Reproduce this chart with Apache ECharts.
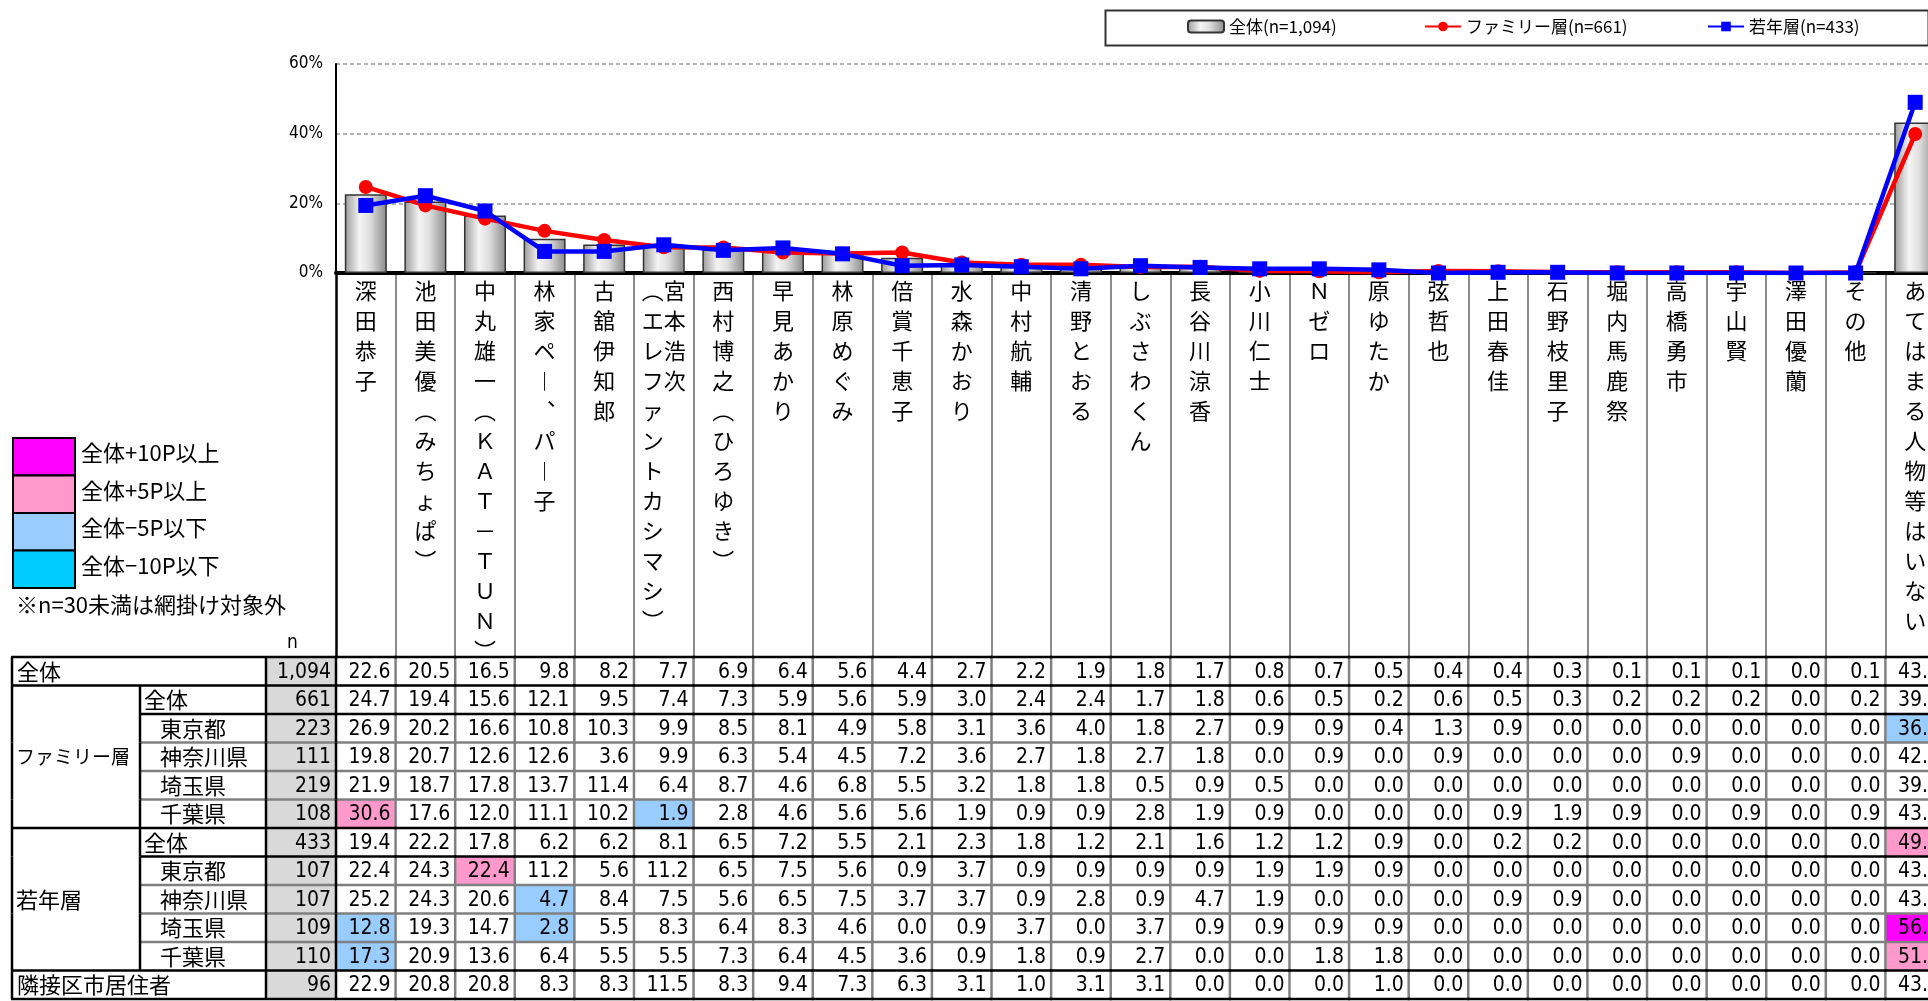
<!DOCTYPE html>
<html>
<head>
<meta charset="utf-8">
<script src="https://cdn.jsdelivr.net/npm/echarts@6/dist/echarts.min.js"></script>
<style>
  html, body { margin: 0; padding: 0; background: #fff; }
  #chart { width: 1928px; height: 1001px; }
</style>
</head>
<body>
<div id="chart"></div>
<script>
// categories (people)
var categories = [
  '深田恭子', '池田美優（みちょぱ）', '中丸雄一（ＫＡＴ－ＴＵＮ）', '林家ペー、パー子', '古舘伊知郎',
  '宮本浩次（エレファントカシマシ）', '西村博之（ひろゆき）', '早見あかり', '林原めぐみ', '倍賞千恵子',
  '水森かおり', '中村航輔', '清野とおる', 'しぶさわくん', '長谷川涼香', '小川仁士', 'Ｎゼロ', '原ゆたか',
  '弦哲也', '上田春佳', '石野枝里子', '堀内馬鹿祭', '高橋勇市', '宇山賢', '澤田優蘭', 'その他',
  'あてはまる人物等はいない'
];

// table rows (%)
var allTotal   = [22.6, 20.5, 16.5, 9.8, 8.2, 7.7, 6.9, 6.4, 5.6, 4.4, 2.7, 2.2, 1.9, 1.8, 1.7, 0.8, 0.7, 0.5, 0.4, 0.4, 0.3, 0.1, 0.1, 0.1, 0.0, 0.1, 43.2];
var famTotal   = [24.7, 19.4, 15.6, 12.1, 9.5, 7.4, 7.3, 5.9, 5.6, 5.9, 3.0, 2.4, 2.4, 1.7, 1.8, 0.6, 0.5, 0.2, 0.6, 0.5, 0.3, 0.2, 0.2, 0.2, 0.0, 0.2, 39.9];
var famTokyo   = [26.9, 20.2, 16.6, 10.8, 10.3, 9.9, 8.5, 8.1, 4.9, 5.8, 3.1, 3.6, 4.0, 1.8, 2.7, 0.9, 0.9, 0.4, 1.3, 0.9, 0.0, 0.0, 0.0, 0.0, 0.0, 0.0, 36.3];
var famKanagawa= [19.8, 20.7, 12.6, 12.6, 3.6, 9.9, 6.3, 5.4, 4.5, 7.2, 3.6, 2.7, 1.8, 2.7, 1.8, 0.0, 0.9, 0.0, 0.9, 0.0, 0.0, 0.0, 0.9, 0.0, 0.0, 0.0, 42.3];
var famSaitama = [21.9, 18.7, 17.8, 13.7, 11.4, 6.4, 8.7, 4.6, 6.8, 5.5, 3.2, 1.8, 1.8, 0.5, 0.9, 0.5, 0.0, 0.0, 0.0, 0.0, 0.0, 0.0, 0.0, 0.0, 0.0, 0.0, 39.3];
var famChiba   = [30.6, 17.6, 12.0, 11.1, 10.2, 1.9, 2.8, 4.6, 5.6, 5.6, 1.9, 0.9, 0.9, 2.8, 1.9, 0.9, 0.0, 0.0, 0.0, 0.9, 1.9, 0.9, 0.0, 0.9, 0.0, 0.9, 43.5];
var ynTotal    = [19.4, 22.2, 17.8, 6.2, 6.2, 8.1, 6.5, 7.2, 5.5, 2.1, 2.3, 1.8, 1.2, 2.1, 1.6, 1.2, 1.2, 0.9, 0.0, 0.2, 0.2, 0.0, 0.0, 0.0, 0.0, 0.0, 49.0];
var ynTokyo    = [22.4, 24.3, 22.4, 11.2, 5.6, 11.2, 6.5, 7.5, 5.6, 0.9, 3.7, 0.9, 0.9, 0.9, 0.9, 1.9, 1.9, 0.9, 0.0, 0.0, 0.0, 0.0, 0.0, 0.0, 0.0, 0.0, 43.9];
var ynKanagawa = [25.2, 24.3, 20.6, 4.7, 8.4, 7.5, 5.6, 6.5, 7.5, 3.7, 3.7, 0.9, 2.8, 0.9, 4.7, 1.9, 0.0, 0.0, 0.0, 0.9, 0.9, 0.0, 0.0, 0.0, 0.0, 0.0, 43.0];
var ynSaitama  = [12.8, 19.3, 14.7, 2.8, 5.5, 8.3, 6.4, 8.3, 4.6, 0.0, 0.9, 3.7, 0.0, 3.7, 0.9, 0.9, 0.9, 0.9, 0.0, 0.0, 0.0, 0.0, 0.0, 0.0, 0.0, 0.0, 56.0];
var ynChiba    = [17.3, 20.9, 13.6, 6.4, 5.5, 5.5, 7.3, 6.4, 4.5, 3.6, 0.9, 1.8, 0.9, 2.7, 0.0, 0.0, 1.8, 1.8, 0.0, 0.0, 0.0, 0.0, 0.0, 0.0, 0.0, 0.0, 51.8];
var neighbor   = [22.9, 20.8, 20.8, 8.3, 8.3, 11.5, 8.3, 9.4, 7.3, 6.3, 3.1, 1.0, 3.1, 3.1, 0.0, 0.0, 0.0, 1.0, 0.0, 0.0, 0.0, 0.0, 0.0, 0.0, 0.0, 0.0, 43.8];

var rowGroups = ['全体', 'ファミリー層', 'ファミリー層', 'ファミリー層', 'ファミリー層', 'ファミリー層',
                 '若年層', '若年層', '若年層', '若年層', '若年層', '隣接区市居住者'];
var rowSubs   = ['', '全体', '東京都', '神奈川県', '埼玉県', '千葉県', '全体', '東京都', '神奈川県', '埼玉県', '千葉県', ''];
var rowN      = [1094, 661, 223, 111, 219, 108, 433, 107, 107, 109, 110, 96];
var tableRows = [allTotal, famTotal, famTokyo, famKanagawa, famSaitama, famChiba,
                 ynTotal, ynTokyo, ynKanagawa, ynSaitama, ynChiba, neighbor];

var yTicks = [0, 20, 40, 60];
var keyLabels = ['全体+10P以上', '全体+5P以上', '全体−5P以下', '全体−10P以下'];

var NARROW = "'Liberation Sans Narrow','Arial Narrow','DejaVu Sans Condensed','Noto Sans CJK JP',sans-serif";
var JP = "'Noto Sans CJK JP',sans-serif";
var KEY_COLORS = ['#ff00ff', '#ff99cc', '#99ccff', '#00ccff'];
var GRAY = '#808080';

function fmtN(n) { return String(n).replace(/\B(?=(\d{3})+(?!\d))/g, ','); }

var seriesNames = [
  '全体(n=' + fmtN(rowN[0]) + ')',
  'ファミリー層(n=' + fmtN(rowN[1]) + ')',
  '若年層(n=' + fmtN(rowN[6]) + ')'
];

// vertical writing for the category labels
var vmap = { '（': '︵', '）': '︶', 'ー': '︱', '、': '︑' };
function verticalLabel(name) {
  var cols = [name];
  if (name.length > 13 && name.indexOf('（') > 0) {
    var k = name.indexOf('（');
    cols = [name.slice(0, k), name.slice(k)];
  }
  cols = cols.map(function (s) { return Array.from(s).map(function (ch) { return vmap[ch] || ch; }); });
  var n = Math.max.apply(null, cols.map(function (c) { return c.length; }));
  var lines = [];
  for (var i = 0; i < n; i++) {
    var line = '';
    for (var j = cols.length - 1; j >= 0; j--) line += cols[j][i] || '　';
    lines.push(line);
  }
  return lines.join('\n');
}

function shade(r, c) {
  if (r === 0 || rowN[r] < 30) return null;
  var d = Math.round((tableRows[r][c] - tableRows[0][c]) * 10) / 10;
  if (d >= 10) return KEY_COLORS[0];
  if (d >= 5) return KEY_COLORS[1];
  if (d <= -10) return KEY_COLORS[3];
  if (d <= -5) return KEY_COLORS[2];
  return null;
}

var strongRows = { 0: 1, 1: 1, 5: 1, 6: 1, 10: 1, 11: 1 };

var cellData = [];
tableRows.forEach(function (row, r) {
  row.forEach(function (v, c) { cellData.push([c, r, v]); });
});
var headData = rowN.map(function (n, r) { return [0, r, n]; });

function renderCell(params, api) {
  var c = api.value(0), r = api.value(1), v = api.value(2);
  var p = api.coord([c, r]);
  var s = api.size([1, 1]);
  var x0 = p[0] - s[0] / 2, y0 = p[1] - s[1] / 2;
  var x1 = x0 + s[0], y1 = y0 + s[1];
  var kids = [];
  var fill = shade(r, c);
  if (fill) kids.push({ type: 'rect', z2: 1, shape: { x: x0, y: y0, width: s[0], height: s[1] }, style: { fill: fill } });
  kids.push({ type: 'text', z2: 8, style: { text: v.toFixed(1), x: x1 - 5, y: p[1] + 1, align: 'right', verticalAlign: 'middle',
    fontSize: 21, fontFamily: NARROW, fill: '#000' } });
  kids.push({ type: 'line', z2: 5, shape: { x1: x1, y1: y0, x2: x1, y2: y1 }, style: { stroke: GRAY, lineWidth: 2.5 } });
  var strong = strongRows[r];
  kids.push({ type: 'line', z2: strong ? 10 : 4, shape: { x1: x0 - 1, y1: y1, x2: x1 + 1, y2: y1 }, style: { stroke: strong ? '#000' : GRAY, lineWidth: 2.5 } });
  if (r === 0) kids.push({ type: 'line', z2: 10, shape: { x1: x0 - 1, y1: y0, x2: x1 + 1, y2: y0 }, style: { stroke: '#000', lineWidth: 2.5 } });
  if (c === 0) kids.push({ type: 'line', z2: 10, shape: { x1: x0, y1: y0, x2: x0, y2: y1 }, style: { stroke: '#000', lineWidth: 2.5 } });
  return { type: 'group', children: kids };
}

// header columns widths (layout)
var GROUP_W = 128, SUB_W = 126, N_W = 70;

function renderHead(params, api) {
  var r = api.value(1), n = api.value(2);
  var p = api.coord([0, r]);
  var s = api.size([1, 1]);
  var y0 = p[1] - s[1] / 2, y1 = y0 + s[1];
  var right = params.coordSys.x;
  var nLeft = right - N_W, subLeft = nLeft - SUB_W, left = subLeft - GROUP_W;
  var grouped = rowSubs[r] !== '';
  var kids = [];
  // n cell
  kids.push({ type: 'rect', z2: 1, shape: { x: nLeft, y: y0, width: N_W, height: s[1] }, style: { fill: '#d9d9d9' } });
  kids.push({ type: 'text', z2: 8, style: { text: fmtN(n), x: right - 5, y: p[1] + 1, align: 'right', verticalAlign: 'middle',
    fontSize: 21, fontFamily: NARROW, fill: '#000' } });
  if (!grouped) {
    kids.push({ type: 'text', z2: 8, style: { text: rowGroups[r], x: left + 5, y: p[1], align: 'left', verticalAlign: 'middle',
      fontSize: 22, fontFamily: JP, fill: '#000' } });
  } else {
    var isTotal = rowSubs[r] === '全体';
    kids.push({ type: 'text', z2: 8, style: { text: rowSubs[r], x: subLeft + (isTotal ? 4 : 20), y: p[1], align: 'left', verticalAlign: 'middle',
      fontSize: 22, fontFamily: JP, fill: '#000' } });
    if (rowGroups[r - 1] !== rowGroups[r]) {
      var cnt = 0;
      while (rowGroups[r + cnt] === rowGroups[r]) cnt++;
      var g = rowGroups[r];
      kids.push({ type: 'text', z2: 8, style: { text: g, x: left + 4, y: y0 + cnt * s[1] / 2, align: 'left', verticalAlign: 'middle',
        fontSize: Math.min(22, Math.floor((GROUP_W - 12) / g.length)), fontFamily: JP, fill: '#000' } });
    }
    kids.push({ type: 'line', z2: 10, shape: { x1: subLeft, y1: y0, x2: subLeft, y2: y1 }, style: { stroke: '#000', lineWidth: 2.5 } });
  }
  // vertical borders
  kids.push({ type: 'line', z2: 10, shape: { x1: left, y1: y0, x2: left, y2: y1 }, style: { stroke: '#000', lineWidth: 2.5 } });
  kids.push({ type: 'line', z2: 10, shape: { x1: nLeft, y1: y0, x2: nLeft, y2: y1 }, style: { stroke: '#000', lineWidth: 2.5 } });
  // horizontal borders
  var full = (r === 0 || r === 5 || r === 10 || r === 11);
  var strong = strongRows[r];
  kids.push({ type: 'line', z2: strong ? 10 : 4, shape: { x1: full ? left - 1 : subLeft, y1: y1, x2: right, y2: y1 },
    style: { stroke: strong ? '#000' : GRAY, lineWidth: 2.5 } });
  if (r === 0) kids.push({ type: 'line', z2: 10, shape: { x1: left - 1, y1: y0, x2: right, y2: y0 }, style: { stroke: '#000', lineWidth: 2.5 } });
  return { type: 'group', children: kids };
}

var barGradient = new echarts.graphic.LinearGradient(0, 0, 1, 0, [
  { offset: 0, color: '#9a9a9a' },
  { offset: 0.35, color: '#f4f4f4' },
  { offset: 0.6, color: '#dedede' },
  { offset: 1, color: '#8a8a8a' }
]);

// colour key at the left
var keyGraphics = [];
KEY_COLORS.forEach(function (col, i) {
  keyGraphics.push({ type: 'rect', left: 12, top: 437 + i * 37.5, shape: { width: 62, height: 37.5 },
    style: { fill: col, stroke: '#000', lineWidth: 2 } });
  keyGraphics.push({ type: 'text', left: 81, top: 442 + i * 37.5,
    style: { text: keyLabels[i], fontSize: 22, fontFamily: JP, fill: '#000' } });
});
keyGraphics.push({ type: 'text', left: 16, top: 594, style: { text: '※n=30未満は網掛け対象外', fontSize: 22, fontFamily: JP, fill: '#000' } });
keyGraphics.push({ type: 'text', left: 287, top: 634, style: { text: 'n', fontSize: 19, fontFamily: NARROW, fill: '#000' } });
keyGraphics.push({ type: 'rect', left: 1103, top: 8, shape: { width: 823, height: 35 }, style: { fill: 'none', stroke: '#333', lineWidth: 2 } });

var legendText = { fontFamily: JP, fontSize: 17, color: '#000' };

var chart = echarts.init(document.getElementById('chart'), null, { renderer: 'canvas' });
chart.setOption({
  animation: false,
  backgroundColor: '#fff',
  legend: [
    { data: [seriesNames[0]], left: 1187, top: 18, padding: 0, itemWidth: 36, itemHeight: 12, itemGap: 0, textStyle: legendText },
    { data: [seriesNames[1]], left: 1424, top: 18, padding: 0, itemWidth: 36, itemHeight: 12, itemGap: 0, textStyle: legendText },
    { data: [seriesNames[2]], left: 1707, top: 18, padding: 0, itemWidth: 36, itemHeight: 12, itemGap: 0, textStyle: legendText }
  ],
  graphic: keyGraphics,
  grid: [
    { left: 336, top: 64, width: 1609, height: 209, outerBoundsMode: 'none' },
    { left: 336, top: 273, width: 1609, height: 384, outerBoundsMode: 'none' },
    { left: 336, top: 657, width: 1609, height: 342, outerBoundsMode: 'none' }
  ],
  xAxis: [
    { gridIndex: 0, type: 'category', data: categories,
      axisLine: { lineStyle: { color: '#000', width: 4 } }, axisTick: { show: false },
      axisLabel: { interval: 0, margin: 3, formatter: verticalLabel, fontFamily: JP, fontSize: 22, lineHeight: 30, color: '#000' } },
    { gridIndex: 1, type: 'category', data: categories,
      axisLine: { show: false }, axisTick: { show: false }, axisLabel: { show: false },
      splitLine: { show: true, interval: 0, showMinLine: false, lineStyle: { color: '#8c8c8c', width: 2 } } },
    { gridIndex: 2, type: 'category', data: categories, show: false }
  ],
  yAxis: [
    { gridIndex: 0, type: 'value', min: yTicks[0], max: yTicks[yTicks.length - 1], interval: yTicks[1] - yTicks[0],
      axisLine: { show: true, lineStyle: { color: '#000', width: 2 } }, axisTick: { show: false },
      axisLabel: { formatter: '{value}%', fontFamily: NARROW, fontSize: 17, color: '#000', margin: 13 },
      splitLine: { lineStyle: { color: '#999', type: [4, 3], width: 1.5 } } },
    { gridIndex: 1, type: 'value', min: 0, max: 1,
      axisLine: { show: true, lineStyle: { color: '#000', width: 2.5 } }, axisTick: { show: false },
      axisLabel: { show: false }, splitLine: { show: false } },
    { gridIndex: 2, type: 'category', data: rowN.map(function (n, i) { return 'r' + i; }), inverse: true, show: false }
  ],
  series: [
    { name: seriesNames[0], type: 'bar', data: allTotal, barWidth: 42,
      itemStyle: { color: barGradient, borderColor: '#333', borderWidth: 1.5 } },
    { name: seriesNames[1], type: 'line', data: famTotal, z: 3,
      symbol: 'circle', symbolSize: 14,
      lineStyle: { color: '#ff0000', width: 4.5 }, itemStyle: { color: '#ff0000' } },
    { name: seriesNames[2], type: 'line', data: ynTotal, z: 4,
      symbol: 'rect', symbolSize: 15,
      lineStyle: { color: '#0000ff', width: 4.5 }, itemStyle: { color: '#0000ff' } },
    { type: 'custom', xAxisIndex: 2, yAxisIndex: 2, data: cellData, renderItem: renderCell, silent: true },
    { type: 'custom', xAxisIndex: 2, yAxisIndex: 2, data: headData, renderItem: renderHead, silent: true }
  ]
});
</script>
</body>
</html>
